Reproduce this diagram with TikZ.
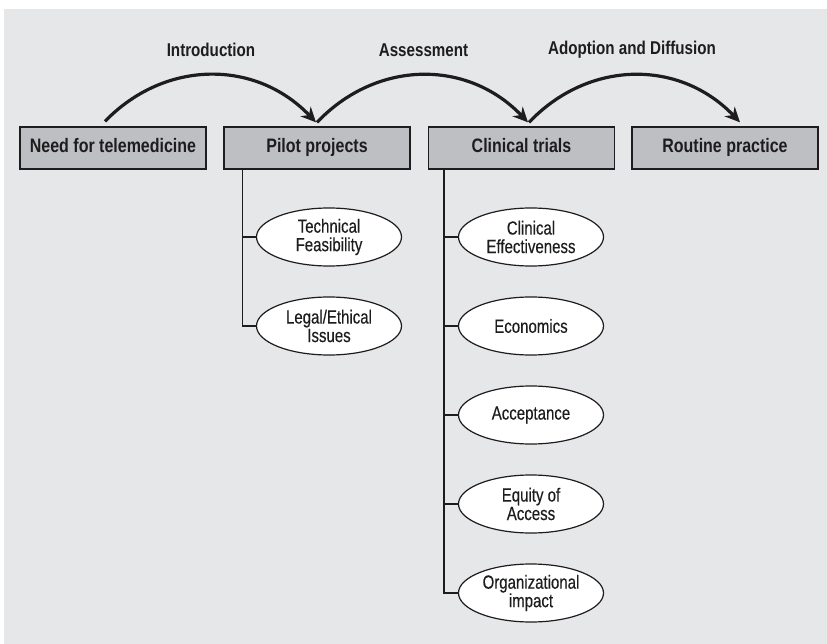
\documentclass[tikz,border=0pt]{standalone}
\usepackage{fontspec}
\setmainfont{Liberation Sans}
\newfontfamily\condfam{Liberation Sans}[FakeStretch=0.82]
\newfontfamily\condreg{Liberation Sans}[FakeStretch=0.79,FakeBold=0.3]
\usetikzlibrary{shapes.geometric,arrows.meta,calc}
\definecolor{bggrey}{RGB}{230,231,233}
\definecolor{boxgrey}{RGB}{190,191,194}
\definecolor{inkc}{RGB}{30,28,30}
\tikzset{
  stagebox/.style={draw=inkc,line width=1.3pt,fill=boxgrey,minimum width=186pt,minimum height=42pt,inner sep=0pt,
    text height=14pt,text depth=4pt,
    font=\condfam\bfseries\fontsize{19.5}{21}\selectfont,text=inkc},
  topic/.style={draw=inkc,line width=1.2pt,fill=white,ellipse,minimum width=145pt,minimum height=58pt,inner sep=0pt,
    align=center,font=\condreg\fontsize{19}{18.5}\selectfont,text=inkc},
  phase/.style={font=\condfam\bfseries\fontsize{18.5}{20}\selectfont,text=inkc},
  arc/.style={draw=inkc,line width=3.2pt,-{Stealth[length=15pt,width=14pt]}},
  trunk/.style={draw=inkc,line width=1.3pt}
}
\begin{document}
\begin{tikzpicture}[x=1pt,y=-1pt]
\useasboundingbox (0,0) rectangle (827,644);
\fill[bggrey] (4,9) rectangle (827,644);

\node[stagebox] (need) at (113,148) {Need for telemedicine};
\node[stagebox] (pilot) at (317,148) {Pilot projects};
\node[stagebox] (trials) at (521.5,148) {Clinical trials};
\node[stagebox] (routine) at (725,148) {Routine practice};

\node[phase] (lintro) at (211,50) {Introduction};
\node[phase] (lassess) at (423.5,50) {Assessment};
\node[phase] (ladopt) at (632,50) {Adoption and Diffusion};

\coordinate (s1) at ($(need.north)+(-8,-5)$);
\coordinate (e1) at ($(pilot.north)+(-1,-4)$);
\coordinate (s2) at ($(pilot.north)+(0,-4)$);
\coordinate (e2) at ($(trials.north)+(6.5,-4)$);
\coordinate (s3) at ($(trials.north)+(7.5,-4)$);
\coordinate (e3) at ($(routine.north)+(15,-4)$);

\draw[arc] (s1) .. controls ($(s1)+(60,-62)$) and ($(e1)+(-60,-63)$) .. (e1);
\draw[arc] (s2) .. controls ($(s2)+(60,-63)$) and ($(e2)+(-60,-63)$) .. (e2);
\draw[arc] (s3) .. controls ($(s3)+(60,-63)$) and ($(e3)+(-60,-63)$) .. (e3);

\node[topic] (tf) at (329,237) {Technical\\Feasibility};
\node[topic] (le) at (329,326) {Legal/Ethical\\Issues};

\node[topic] (ce) at (531,237) {Clinical\\Effectiveness};
\node[topic] (ec) at (531,326) {Economics};
\node[topic] (ac) at (531,415) {Acceptance};
\node[topic] (eq) at (531,504) {Equity of\\Access};
\node[topic] (oi) at (531,593) {Organizational\\impact};

\coordinate (pt) at ($(pilot.south west)+(19,0)$);
\coordinate (ct) at ($(trials.south west)+(16,0)$);
\draw[trunk] (pt) |- (le.west);
\draw[trunk] (pt) |- (tf.west);
\draw[trunk] (ct) |- (oi.west);
\draw[trunk] (ct) |- (ce.west);
\draw[trunk] (ct) |- (ec.west);
\draw[trunk] (ct) |- (ac.west);
\draw[trunk] (ct) |- (eq.west);
\end{tikzpicture}
\end{document}
